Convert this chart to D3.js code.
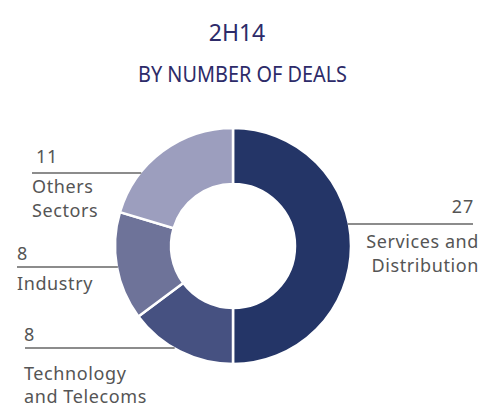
<!DOCTYPE html>
<html>
<head>
<meta charset="utf-8">
<script src="https://cdn.jsdelivr.net/npm/d3@7"></script>
<style>
  body { margin: 0; background: #fff; }
  text { font-family: "Noto Sans", "DejaVu Sans", sans-serif; }
</style>
</head>
<body>
<div id="chart"></div>
<script>
var categories = ["Services and Distribution", "Technology and Telecoms", "Industry", "Others Sectors"];
var deals = [27, 8, 8, 11];
var labelLines = [["Services and", "Distribution"], ["Technology", "and Telecoms"], ["Industry"], ["Others", "Sectors"]];
var colors = ["#243567", "#465181", "#6e7399", "#9c9ebe"];

var width = 488, height = 405;
var cx = 233, cy = 246, outerR = 118, innerR = 62;

var svg = d3.select("#chart").append("svg")
  .attr("width", width)
  .attr("height", height);

svg.append("text").attr("x", 237).attr("y", 41)
  .attr("text-anchor", "middle").attr("fill", "#2d2b69")
  .style("font-size", "23px").text("2H14");
svg.append("text").attr("x", 138).attr("y", 82)
  .attr("fill", "#2d2b69")
  .attr("textLength", 209).attr("lengthAdjust", "spacingAndGlyphs")
  .style("font-size", "21px").text("BY NUMBER OF DEALS");

var data = categories.map(function(c, i) { return { name: c, value: deals[i], lines: labelLines[i], color: colors[i] }; });

var pie = d3.pie().value(function(d) { return d.value; }).sort(null);
var arc = d3.arc().innerRadius(innerR).outerRadius(outerR);

var g = svg.append("g").attr("transform", "translate(" + cx + "," + cy + ")");
g.selectAll("path").data(pie(data)).enter().append("path")
  .attr("d", arc)
  .attr("fill", function(d) { return d.data.color; })
  .attr("stroke", "#fff")
  .attr("stroke-width", 2.5);

// label layout per slice: leader line y, line start x, number x, text x, text baselines
var layout = [
  { y: 224, lx: 473, nx: 474, tx: 479, ny: 213, ty: [248, 272], side: "right" },
  { y: 348, lx: 25, nx: 24, tx: 24, ny: 341, ty: [380, 403], side: "left" },
  { y: 267, lx: 17, nx: 17, tx: 17, ny: 260, ty: [290], side: "left" },
  { y: 173, lx: 32, nx: 36, tx: 32, ny: 163, ty: [193, 217], side: "left" }
];

data.forEach(function(d, i) {
  var L = layout[i];
  var dy = L.y - cy;
  var dx = Math.sqrt(outerR * outerR - dy * dy);
  var x1, x2;
  if (L.side === "right") { x1 = cx + dx - 1; x2 = L.lx; }
  else { x1 = L.lx; x2 = cx - dx + 1; }
  svg.append("line")
    .attr("x1", x1).attr("x2", x2).attr("y1", L.y).attr("y2", L.y)
    .attr("stroke", "#666").attr("stroke-width", 1.7);
  var anchor = L.side === "right" ? "end" : "start";
  svg.append("text").attr("x", L.nx).attr("y", L.ny)
    .attr("text-anchor", anchor).attr("fill", "#555")
    .style("font-size", "18px").style("letter-spacing", "0.8px").text(d.value);
  d.lines.forEach(function(t, k) {
    svg.append("text").attr("x", L.tx).attr("y", L.ty[k])
      .attr("text-anchor", anchor).attr("fill", "#555")
      .style("font-size", "18px").style("letter-spacing", "0.6px").text(t);
  });
});
</script>
</body>
</html>
